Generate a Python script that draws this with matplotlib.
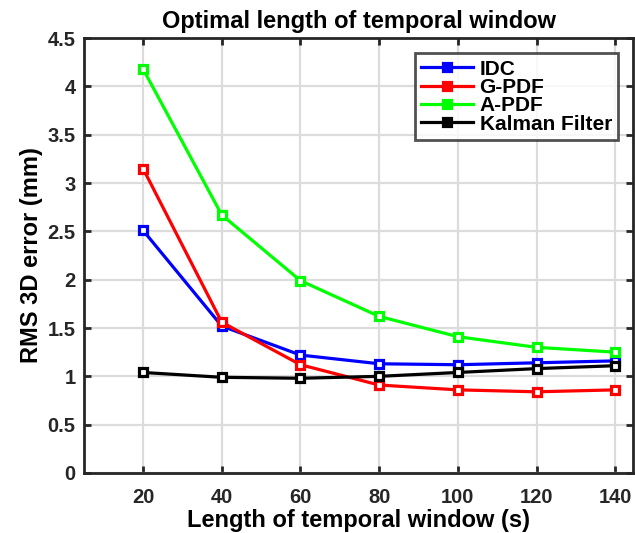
import numpy as np
import matplotlib.pyplot as plt

plt.rcParams['font.family'] = 'Liberation Sans'
plt.rcParams['font.weight'] = 'bold'

window = [20, 40, 60, 80, 100, 120, 140]
idc = [2.51, 1.52, 1.22, 1.13, 1.12, 1.14, 1.16]
gpdf = [3.15, 1.56, 1.12, 0.91, 0.86, 0.84, 0.86]
apdf = [4.18, 2.67, 1.99, 1.62, 1.41, 1.30, 1.25]
kalman = [1.04, 0.99, 0.98, 1.00, 1.04, 1.08, 1.11]

series = [(idc, 'IDC', '#0000ff'), (gpdf, 'G-PDF', '#ff0000'),
          (apdf, 'A-PDF', '#00ff00'), (kalman, 'Kalman Filter', '#000000')]

yticks = np.arange(0, 4.51, 0.5)
ylabels = ['0', '0.5', '1', '1.5', '2', '2.5', '3', '3.5', '4', '4.5']

fig = plt.figure(figsize=(6.35, 5.33), dpi=100)
ax = fig.add_axes([0.1323, 0.1126, 0.8646, 0.816])

for vals, name, col in series:
    ax.plot(window, vals, color=col, lw=2.3, marker='s', ms=6,
            mfc='white', mec=col, mew=2.3, label=name)

ax.set_xlim(5, 144.5)
ax.set_ylim(0, 4.5)
ax.set_xticks(window)
ax.set_yticks(yticks)
ax.set_yticklabels(ylabels)
ax.grid(True, color='#dcdcdc', lw=1.6)
ax.set_axisbelow(True)
ax.tick_params(direction='in', top=True, right=True, labelsize=14.5,
               length=5, width=2, colors='#262626')
ax.tick_params(axis='x', pad=11)
ax.tick_params(axis='y', pad=6)
for s in ax.spines.values():
    s.set_linewidth(2)
    s.set_color('#262626')

ax.set_title('Optimal length of temporal window', fontsize=17,
             fontweight='bold', pad=7)
ax.set_xlabel('Length of temporal window (s)', fontsize=17,
              fontweight='bold', labelpad=1)
ax.set_ylabel('RMS 3D error (mm)', fontsize=17, fontweight='bold',
              labelpad=3)

leg = ax.legend(loc='upper right', bbox_to_anchor=(0.973, 0.965),
                fontsize=15, frameon=True, fancybox=False,
                handlelength=2.5, borderpad=0.3, labelspacing=-0.03,
                handletextpad=0.3, borderaxespad=0)
leg.get_frame().set_edgecolor('#262626')
leg.get_frame().set_linewidth(2)
for h in leg.legend_handles:
    h.set_markerfacecolor(h.get_color())

fig.savefig('out.png', dpi=100)
